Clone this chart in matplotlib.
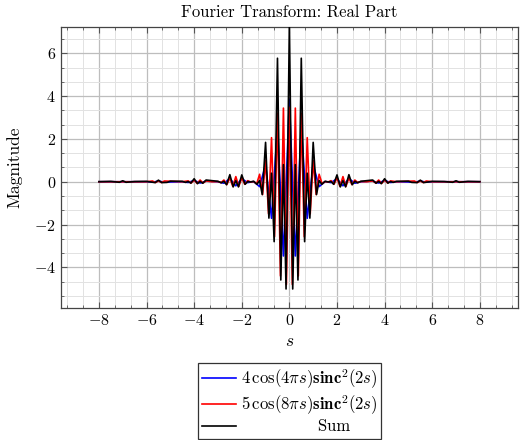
import matplotlib
matplotlib.use("Agg")
import matplotlib.pyplot as plt
from matplotlib.ticker import MultipleLocator
import numpy as np

# Vertices (s >= 0; curves are symmetric about s = 0)
blue_s = [0, 0.25, 0.5, 0.75, 1.0, 1.25, 1.5, 1.75, 2.0, 2.25, 2.5, 2.75, 3.0,
          3.5, 3.75, 4.0, 4.25, 4.5, 5.25, 5.5, 5.75, 6.0, 8.0]
blue_v = [3.86, -3.47, 2.6, -1.71, 0.8, -0.23, 0.01, -0.04, 0.14, -0.19, 0.15, -0.07, 0.0,
          0.03, -0.06, 0.06, -0.035, 0.0, -0.02, 0.03, -0.02, 0.0, 0.0]

red_s = [0, 0.125, 0.25, 0.375, 0.5, 0.625, 0.75, 0.875, 1.0, 1.125, 1.25, 1.375, 1.5,
         1.625, 1.75, 1.875, 2.0, 2.125, 2.25, 2.375, 2.5, 2.625, 2.75, 2.875, 3.0,
         3.25, 3.5, 3.625, 3.75, 3.875, 4.0, 4.125, 4.25, 4.5,
         5.25, 5.375, 5.5, 5.625, 5.75, 6.0, 8.0]
red_v = [3.48, -4.8, 3.44, -4.4, 3.2, -2.57, 2.06, -1.5, 1.0, -0.6, 0.35, -0.1, 0.01,
         -0.01, 0.05, -0.12, 0.18, -0.22, 0.24, -0.22, 0.18, -0.13, 0.08, -0.04, 0.01,
         0.0, 0.04, -0.06, 0.08, -0.08, 0.08, -0.06, 0.04, 0.0,
         0.035, -0.04, 0.04, -0.04, 0.035, 0.0, 0.0]

sum_s = [0, 0.14, 0.25, 0.36, 0.5, 0.64, 0.75, 0.86, 1.0, 1.14, 1.25, 1.36, 1.5,
         1.64, 1.75, 1.86, 2.0, 2.14, 2.25, 2.36, 2.5, 2.64, 2.75, 2.86, 3.0,
         3.5, 3.64, 3.75, 3.86, 4.0, 4.14, 4.25, 4.36, 4.5,
         5.0, 5.14, 5.36, 5.5, 5.64, 6.0, 6.5, 6.86, 7.0, 7.14, 7.5, 8.0]
sum_v = [7.3, -5.01, 0.8, -4.59, 5.77, -2.8, 0.4, -1.7, 1.84, -0.6, 0.06, -0.12, 0.02,
         -0.01, 0.01, -0.12, 0.32, -0.24, 0.05, -0.24, 0.33, -0.14, 0.02, -0.05, 0.02,
         0.08, -0.07, 0.016, -0.09, 0.14, -0.065, 0.01, -0.03, 0.02,
         0.027, -0.03, -0.04, 0.074, -0.04, 0.018, 0.01, -0.025, 0.045, -0.025, 0.017, 0.003]

labels = [r"$4\,\cos(4\pi s)\mathbf{sinc}^2(2s)$",
          r"$5\,\cos(8\pi s)\mathbf{sinc}^2(2s)$",
          "Sum"]


def mirror(s, v):
    s = np.asarray(s, float)
    v = np.asarray(v, float)
    xs = np.concatenate([-s[:0:-1], s])
    ys = np.concatenate([v[:0:-1], v])
    return xs, ys


plt.rcParams["font.family"] = "cmr10"
plt.rcParams["mathtext.fontset"] = "cm"
plt.rcParams["axes.formatter.use_mathtext"] = True

fig = plt.figure(figsize=(5.2, 4.4), dpi=100)
ax = fig.add_axes([0.117, 0.30, 0.879, 0.6386])

colors = ["#0000ff", "#ff0000", "#000000"]
for (s, v), c, lab in zip([(blue_s, blue_v), (red_s, red_v), (sum_s, sum_v)], colors, labels):
    xs, ys = mirror(s, v)
    ax.plot(xs, ys, color=c, lw=1.2, label=lab, zorder=3)

ax.set_xlim(-9.6, 9.6)
ax.set_ylim(-5.9, 7.23)
ax.xaxis.set_major_locator(MultipleLocator(2))
ax.yaxis.set_major_locator(MultipleLocator(2))
ax.xaxis.set_minor_locator(MultipleLocator(2 / 3))
ax.yaxis.set_minor_locator(MultipleLocator(2 / 3))
ax.grid(which="major", color="#bdbdbd", lw=0.9, zorder=0)
ax.grid(which="minor", color="#e2e2e2", lw=0.7, zorder=0)
ax.set_axisbelow(True)
ax.tick_params(which="both", direction="in", top=True, right=True, labelsize=11.5,
               color="#555555")
ax.tick_params(which="major", length=4)
ax.tick_params(which="minor", length=2.5)
for sp in ax.spines.values():
    sp.set_color("#444444")
    sp.set_linewidth(0.9)

ax.set_title("Fourier Transform: Real Part", fontsize=12, pad=7)
ax.set_xlabel(r"$s$", fontsize=12.5, labelpad=4)
ax.set_ylabel("Magnitude", fontsize=12.5, labelpad=8)

handles, labs = ax.get_legend_handles_labels()
labs[2] = "              Sum"
leg = fig.legend(handles, labs, loc="upper center", bbox_to_anchor=(0.557, 0.175),
                 fancybox=False, edgecolor="#333333", framealpha=1, fontsize=12,
                 handlelength=2.0, handletextpad=0.3, borderpad=0.25, labelspacing=0.15,
                 borderaxespad=0)
leg.get_frame().set_linewidth(0.9)

fig.savefig("out.png", dpi=100)
